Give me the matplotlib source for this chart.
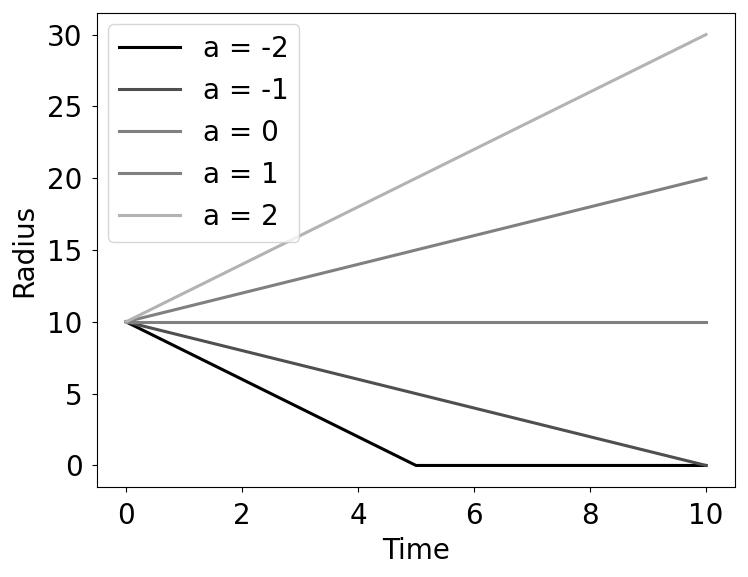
import matplotlib
matplotlib.use("Agg")
import matplotlib.pyplot as plt

# radius vs time for each value of a
labels = ["a = -2", "a = -1", "a = 0", "a = 1", "a = 2"]
times = [[0, 5, 10], [0, 10], [0, 10], [0, 10], [0, 10]]
radii = [[10, 0, 0], [10, 0], [10, 10], [10, 20], [10, 30]]
colors = ["#000000", "#4f4f4f", "#808080", "#808080", "#b3b3b3"]

plt.rcParams['font.size'] = 20
plt.rcParams['xtick.major.pad'] = 7
plt.rcParams['ytick.major.pad'] = 7
fig = plt.figure(figsize=(7.48, 5.77), dpi=100)
ax = fig.add_axes([97/748, 1-487/577, (735-97)/748, (487-13)/577])

for t, r, c, lab in zip(times, radii, colors, labels):
    ax.plot(t, r, color=c, lw=2.2, label=lab)

ax.set_xlabel("Time", labelpad=5)
ax.set_ylabel("Radius", labelpad=6)
ax.set_xticks([0, 2, 4, 6, 8, 10])
ax.set_yticks([0, 5, 10, 15, 20, 25, 30])
ax.legend(loc="upper left", handlelength=2.2, labelspacing=0.5, borderaxespad=0.4)

fig.savefig("out.png", dpi=100)
